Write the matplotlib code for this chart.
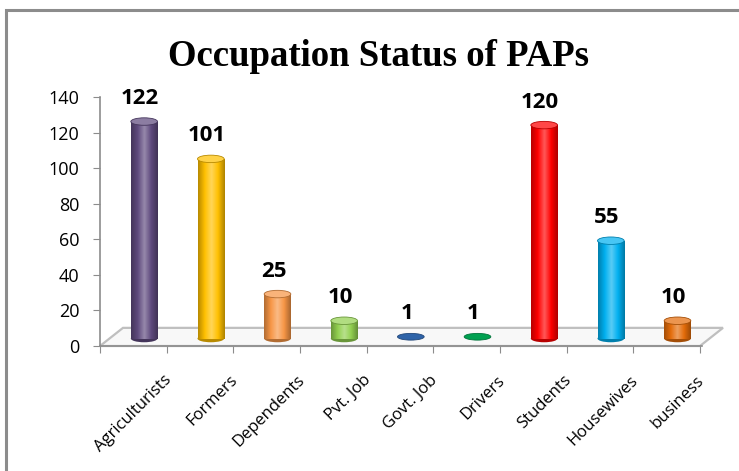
import numpy as np
import matplotlib.pyplot as plt
from matplotlib.patches import Polygon, Ellipse, Rectangle
from matplotlib.colors import LinearSegmentedColormap, to_rgb

# chart data
categories = ["Agriculturists", "Formers", "Dependents", "Pvt. Job", "Govt. Job",
              "Drivers", "Students", "Housewives", "business"]
counts = [122, 101, 25, 10, 1, 1, 120, 55, 10]
bar_colors = ["#5F4A7E", "#FFC000", "#F79646", "#92D050", "#2E63A8",
              "#00A050", "#FF0000", "#00B0F0", "#E46C0A"]
yticks = [0, 20, 40, 60, 80, 100, 120, 140]

W, H = 739, 471
fig = plt.figure(figsize=(W / 100, H / 100), dpi=100)
fig.patch.set_facecolor("white")

# outer chart frame (cut off at right / bottom like the screenshot)
fig.patches.append(Rectangle((6 / W, -0.05), 1.1, 1 - 10 / H + 0.05, transform=fig.transFigure,
                             fill=False, edgecolor="#8C8C8C", linewidth=2.2))

ax = fig.add_axes([100 / W, (H - 346) / H, 602 / W, 249 / H])
ax.patch.set_alpha(0)

# pseudo 3D floor
dx, dy = 0.345, 10.2
floor = Polygon([(0, 0), (dx, dy), (len(categories) + dx, dy), (len(categories), 0)],
                closed=True, facecolor="#F8F8F8", edgecolor="#BFBFBF", linewidth=1.6,
                clip_on=False, zorder=1)
ax.add_patch(floor)

# cylinders
bw = 0.40          # bar width in category units
eh = 4.2           # ellipse height in data units
base = 4.2
for i, (v, c) in enumerate(zip(counts, bar_colors)):
    xc = i + 0.5 + dx / 2 - 0.01
    rgb = np.array(to_rgb(c))
    dark = rgb * 0.72
    light = np.clip(rgb + (1 - rgb) * 0.35, 0, 1)
    cmap = LinearSegmentedColormap.from_list("cyl", [dark, rgb, light, rgb, dark * 0.95])
    top = base + v
    if v > 2:
        body = Rectangle((xc - bw / 2, base), bw, v, transform=ax.transData)
        im = ax.imshow(np.linspace(0, 1, 64)[None, :], cmap=cmap, aspect="auto",
                       extent=(xc - bw / 2, xc + bw / 2, base, top), zorder=3,
                       interpolation="bilinear")
        im.set_clip_path(body)
        ax.add_patch(Ellipse((xc, base), bw, eh, facecolor=dark, edgecolor="none", zorder=2.9))
        ax.add_patch(Ellipse((xc, top), bw, eh, facecolor=light * 0.8 + rgb * 0.2,
                             edgecolor=dark, linewidth=0.6, zorder=4))
    else:
        ax.add_patch(Ellipse((xc, base + v), bw, eh * 0.9, facecolor=rgb,
                             edgecolor=dark, linewidth=0.6, zorder=4))
    ax.text(xc - 0.06, top + 7.0, str(v), ha="center", va="bottom", fontsize=16,
            fontweight="bold", family="Open Sans", color="black", zorder=5)

ax.set_xlim(0, len(categories))
ax.set_ylim(0, 140)

# axes styling
for s in ["top", "right"]:
    ax.spines[s].set_visible(False)
for s in ["left", "bottom"]:
    ax.spines[s].set_color("#8C8C8C")
    ax.spines[s].set_linewidth(1.2)

ax.set_yticks(yticks)
ax.set_yticklabels([str(t) for t in yticks], fontsize=13, family="Open Sans")
ax.tick_params(axis="y", length=5, color="#8C8C8C", pad=10)

ax.set_xticks(range(len(categories) + 1))
ax.set_xticklabels([])
ax.tick_params(axis="x", which="major", length=5, color="#8C8C8C", direction="out")
ax.set_xticks([i + 0.5 + 0.53 for i in range(len(categories))], minor=True)
ax.set_xticklabels(categories, minor=True, rotation=45, ha="right", va="center",
                   rotation_mode="anchor", fontsize=12, family="Open Sans")
ax.tick_params(axis="x", which="minor", length=0, pad=23)

fig.text(378 / W, 1 - 57 / H, "Occupation Status of PAPs", ha="center", va="center",
         fontsize=26.5, fontweight="bold", family="Liberation Serif")

fig.savefig("out.png", dpi=100)
